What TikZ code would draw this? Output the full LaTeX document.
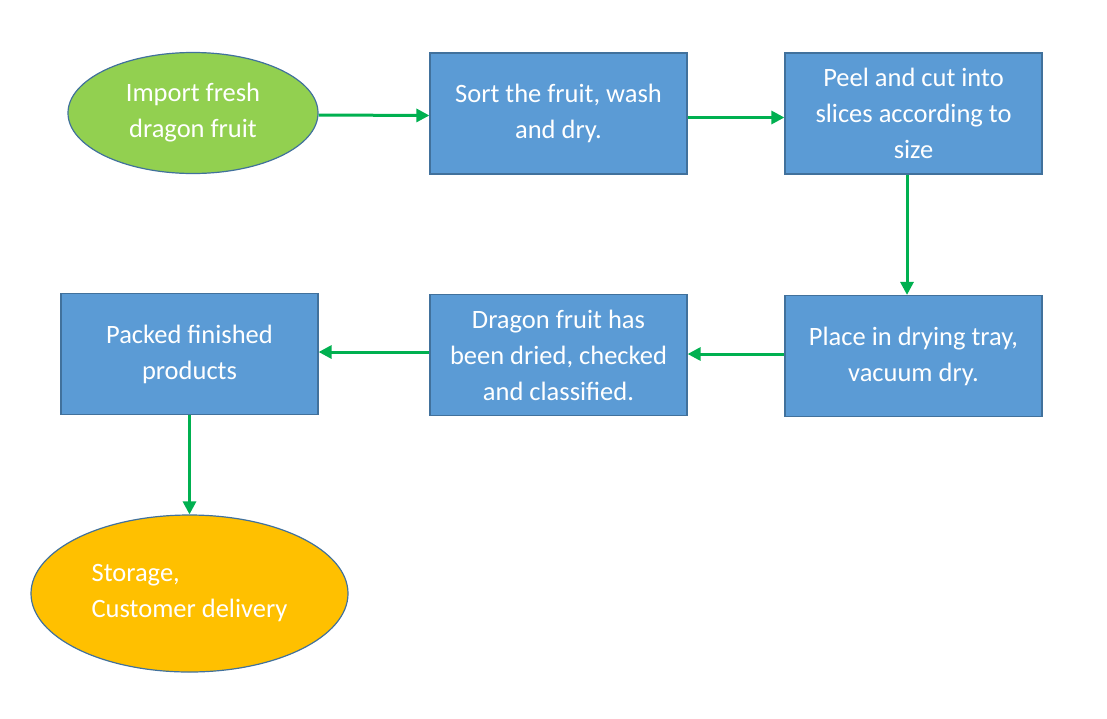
\documentclass[tikz,border=0pt]{standalone}
\usepackage{fontspec}
\setmainfont{Carlito}
\usetikzlibrary{shapes.geometric,arrows.meta}
\definecolor{boxblue}{HTML}{5B9BD5}
\definecolor{edgeblue}{HTML}{41719C}
\definecolor{leafgreen}{HTML}{92D050}
\definecolor{arrowgreen}{HTML}{00B050}
\definecolor{gold}{HTML}{FFC000}
\tikzset{
  stepbox/.style={rectangle, draw=edgeblue, line width=1.2pt, fill=boxblue,
    minimum width=257pt, minimum height=121pt, inner sep=0pt, text=white,
    align=center, font=\fontsize{26.5}{36}\selectfont},
  endpoint/.style={ellipse, draw=edgeblue, line width=1.2pt, inner sep=0pt,
    text=white, font=\fontsize{26.5}{36}\selectfont},
  flow/.style={arrowgreen, line width=3pt, -{Triangle[length=13pt,width=13pt]}}
}
\begin{document}
\begin{tikzpicture}[x=1pt,y=-1pt]
    \useasboundingbox (0,0) rectangle (1107,718);
    \node[endpoint, fill=leafgreen, minimum width=250pt, minimum height=121pt, align=center]
        (import) at (193,113) {Import fresh\\dragon fruit};
    \node[stepbox] (sort) at (558.5,113.5) {Sort the fruit, wash\\and dry.};
    \node[stepbox] (peel) at (913.5,113.5) {Peel and cut into\\slices according to\\size};
    \node[stepbox] (dry) at (913.5,356) {Place in drying tray,\\vacuum dry.};
    \node[stepbox] (check) at (558.5,355) {Dragon fruit has\\been dried, checked\\and classified.};
    \node[stepbox] (pack) at (189.5,354) {Packed finished\\products};
    \node[endpoint, fill=gold, minimum width=317pt, minimum height=157pt, align=left]
        (store) at (189.5,593.5) {Storage,\\Customer delivery};
    \draw[flow] ([yshift=-2pt]import.east) -- ([yshift=-2pt]sort.west);
    \draw[flow] ([yshift=-4pt]sort.east) -- ([yshift=-4pt]peel.west);
    \draw[flow] ([xshift=-6.5pt]peel.south) -- ([xshift=-6.5pt]dry.north);
    \draw[flow] ([yshift=2pt]dry.west) -- ([yshift=2pt]check.east |- dry.west);
    \draw[flow] ([yshift=2pt]check.west |- pack.east) -- ([yshift=2pt]pack.east);
    \draw[flow] (pack.south) -- (store.north);
\end{tikzpicture}
\end{document}
